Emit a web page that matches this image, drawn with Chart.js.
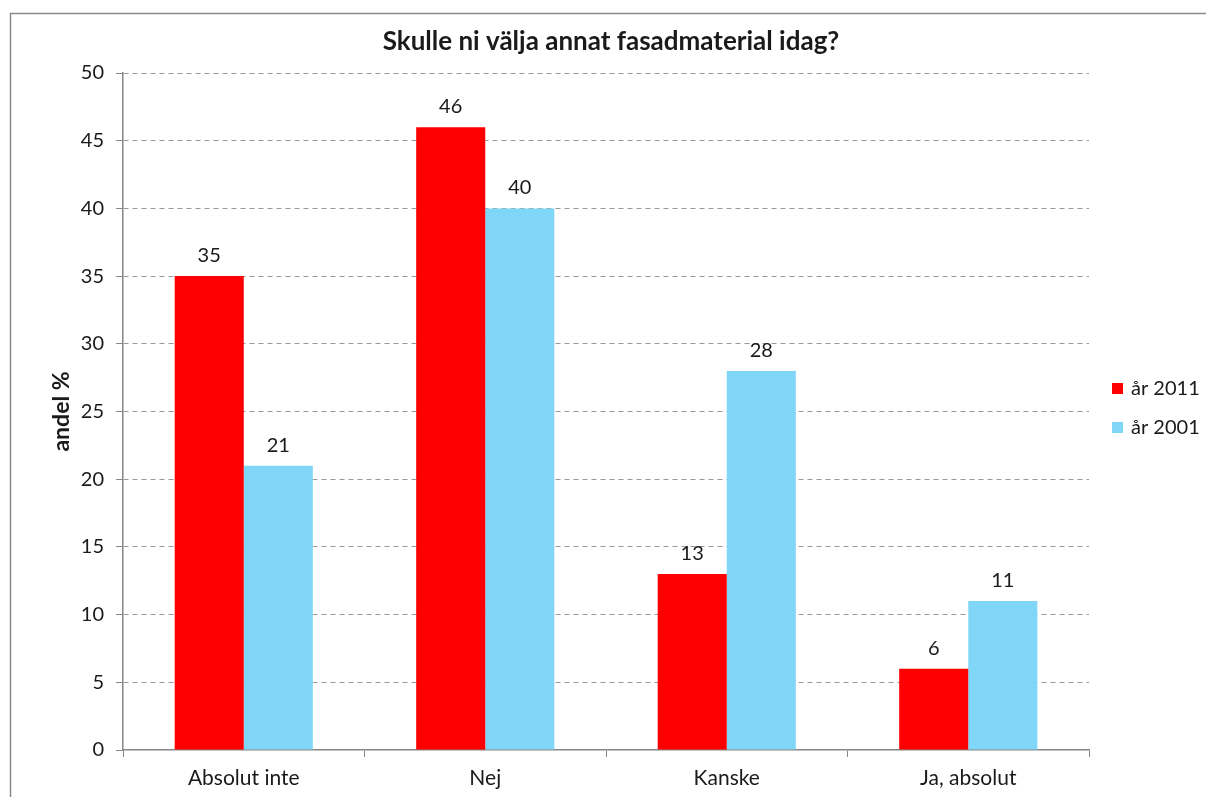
<!DOCTYPE html>
<html>
<head>
<meta charset="utf-8">
<script src="https://cdn.jsdelivr.net/npm/chart.js@4/dist/chart.umd.min.js"></script>
<style>
  html, body { margin: 0; padding: 0; background: #fff; }
  canvas { display: block; }
</style>
</head>
<body>
<canvas id="fasad-chart" width="1206" height="797"></canvas>
<script>
var categories = ['Absolut inte', 'Nej', 'Kanske', 'Ja, absolut'];
var values2011 = [35, 46, 13, 6];
var values2001 = [21, 40, 28, 11];
var seriesLabels = ['år 2011', 'år 2001'];
var seriesColors = ['#FF0000', '#80D6F6'];
var titleText = 'Skulle ni välja annat fasadmaterial idag?';
var axisTitle = 'andel %';

var fontFamily = 'Lato, "Liberation Sans", sans-serif';
var textColor = '#1a1a1a';

// frame, title, axis title and legend are painted by hand
var decorPlugin = {
    id: 'decor',
    beforeDraw: function(chart) {
        var ctx = chart.ctx;
        ctx.save();
        ctx.strokeStyle = '#8a8a8a';
        ctx.lineWidth = 1.5;
        ctx.beginPath();
        ctx.moveTo(10.5, chart.height + 5);
        ctx.lineTo(10.5, 13.5);
        ctx.lineTo(chart.width + 5, 13.5);
        ctx.stroke();
        ctx.restore();
    },
    afterDraw: function(chart) {
        var ctx = chart.ctx;
        var area = chart.chartArea;
        ctx.save();
        ctx.fillStyle = textColor;
        ctx.textAlign = 'center';
        ctx.textBaseline = 'alphabetic';
        ctx.font = 'bold 26px ' + fontFamily;
        ctx.fillText(titleText, 611, 50);

        ctx.save();
        ctx.translate(62, (area.top + area.bottom) / 2);
        ctx.rotate(-Math.PI / 2);
        ctx.textBaseline = 'middle';
        ctx.font = 'bold 23px ' + fontFamily;
        ctx.fillText(axisTitle, 0, 0);
        ctx.restore();

        ctx.font = '20px ' + fontFamily;
        ctx.textAlign = 'left';
        ctx.textBaseline = 'middle';
        seriesLabels.forEach(function(label, i) {
            var y = 389 + i * 39;
            ctx.fillStyle = seriesColors[i];
            ctx.fillRect(1112, y - 6, 11, 11);
            ctx.fillStyle = textColor;
            ctx.fillText(label, 1131, y);
        });
        ctx.restore();
    },
    afterDatasetsDraw: function(chart) {
        var ctx = chart.ctx;
        ctx.save();
        ctx.fillStyle = textColor;
        ctx.font = '20px ' + fontFamily;
        ctx.textAlign = 'center';
        ctx.textBaseline = 'alphabetic';
        chart.data.datasets.forEach(function(ds, di) {
            chart.getDatasetMeta(di).data.forEach(function(bar, i) {
                ctx.fillText(String(ds.data[i]), bar.x, bar.y - 14);
            });
        });
        ctx.restore();
    }
};

new Chart(document.getElementById('fasad-chart'), {
    type: 'bar',
    data: {
        labels: categories,
        datasets: [
            {
                label: seriesLabels[0],
                data: values2011,
                backgroundColor: seriesColors[0],
                categoryPercentage: 0.572,
                barPercentage: 1
            },
            {
                label: seriesLabels[1],
                data: values2001,
                backgroundColor: seriesColors[1],
                categoryPercentage: 0.572,
                barPercentage: 1
            }
        ]
    },
    options: {
        responsive: false,
        devicePixelRatio: 1,
        animation: false,
        layout: {
            padding: { left: 0, top: 73, right: 117, bottom: 0 }
        },
        plugins: {
            legend: { display: false },
            tooltip: { enabled: false },
            title: { display: false }
        },
        scales: {
            x: {
                grid: {
                    offset: true,
                    drawOnChartArea: false,
                    drawTicks: true,
                    tickLength: 7,
                    tickColor: '#868686'
                },
                border: { color: '#868686', width: 1.5 },
                ticks: {
                    color: textColor,
                    font: { family: fontFamily, size: 21 },
                    padding: 9
                },
                afterFit: function(scale) {
                    scale.height = 47;
                }
            },
            y: {
                min: 0,
                max: 50,
                ticks: {
                    stepSize: 5,
                    color: textColor,
                    font: { family: fontFamily, size: 20 },
                    padding: 12
                },
                grid: {
                    color: function(ctx) {
                        return ctx.tick && ctx.tick.value === 0 ? 'rgba(0,0,0,0)' : '#9a9a9a';
                    },
                    lineWidth: 1,
                    tickLength: 7,
                    tickColor: '#868686'
                },
                border: { color: '#868686', width: 1.5, dash: [5, 4] },
                afterFit: function(scale) {
                    scale.width = 123;
                }
            }
        }
    },
    plugins: [decorPlugin]
});
</script>
</body>
</html>
